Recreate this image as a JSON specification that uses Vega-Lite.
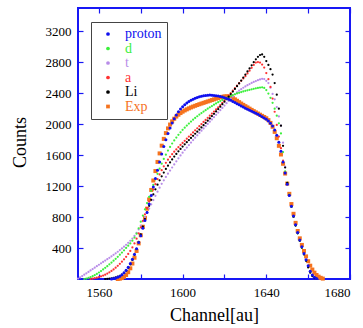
{
"$schema": "https://vega.github.io/schema/vega-lite/v6.json",
"width": 272, "height": 271,
"autosize": {"type": "none"},
"padding": {"left": 78, "top": 8, "right": 13, "bottom": 49},
"background": "white",
"config": {"view": {"stroke": "#1818f5", "strokeWidth": 2}, "font": "Liberation Serif"},
"data": {"values": [
{"s":"Exp","c":1569,"v":0},{"s":"Exp","c":1570,"v":4},{"s":"Exp","c":1571,"v":12},{"s":"Exp","c":1572,"v":28},{"s":"Exp","c":1573,"v":52},{"s":"Exp","c":1574,"v":88},{"s":"Exp","c":1575,"v":138},{"s":"Exp","c":1576,"v":200},{"s":"Exp","c":1577,"v":275},{"s":"Exp","c":1578,"v":362},{"s":"Exp","c":1579,"v":460},{"s":"Exp","c":1580,"v":565},{"s":"Exp","c":1581,"v":675},{"s":"Exp","c":1582,"v":790},{"s":"Exp","c":1583,"v":908},{"s":"Exp","c":1584,"v":1028},{"s":"Exp","c":1585,"v":1150},{"s":"Exp","c":1586,"v":1272},{"s":"Exp","c":1587,"v":1394},{"s":"Exp","c":1588,"v":1512},{"s":"Exp","c":1589,"v":1622},{"s":"Exp","c":1590,"v":1722},{"s":"Exp","c":1591,"v":1810},{"s":"Exp","c":1592,"v":1884},{"s":"Exp","c":1593,"v":1945},{"s":"Exp","c":1594,"v":1995},{"s":"Exp","c":1595,"v":2036},{"s":"Exp","c":1596,"v":2070},{"s":"Exp","c":1597,"v":2098},{"s":"Exp","c":1598,"v":2122},{"s":"Exp","c":1599,"v":2143},{"s":"Exp","c":1600,"v":2161},{"s":"Exp","c":1601,"v":2177},{"s":"Exp","c":1602,"v":2191},{"s":"Exp","c":1603,"v":2204},{"s":"Exp","c":1604,"v":2216},{"s":"Exp","c":1605,"v":2227},{"s":"Exp","c":1606,"v":2237},{"s":"Exp","c":1607,"v":2247},{"s":"Exp","c":1608,"v":2257},{"s":"Exp","c":1609,"v":2266},{"s":"Exp","c":1610,"v":2275},{"s":"Exp","c":1611,"v":2284},{"s":"Exp","c":1612,"v":2293},{"s":"Exp","c":1613,"v":2302},{"s":"Exp","c":1614,"v":2311},{"s":"Exp","c":1615,"v":2320},{"s":"Exp","c":1616,"v":2329},{"s":"Exp","c":1617,"v":2338},{"s":"Exp","c":1618,"v":2346},{"s":"Exp","c":1619,"v":2353},{"s":"Exp","c":1620,"v":2358},{"s":"Exp","c":1621,"v":2360},{"s":"Exp","c":1622,"v":2358},{"s":"Exp","c":1623,"v":2350},{"s":"Exp","c":1624,"v":2337},{"s":"Exp","c":1625,"v":2320},{"s":"Exp","c":1626,"v":2302},{"s":"Exp","c":1627,"v":2284},{"s":"Exp","c":1628,"v":2266},{"s":"Exp","c":1629,"v":2249},{"s":"Exp","c":1630,"v":2232},{"s":"Exp","c":1631,"v":2216},{"s":"Exp","c":1632,"v":2200},{"s":"Exp","c":1633,"v":2184},{"s":"Exp","c":1634,"v":2168},{"s":"Exp","c":1635,"v":2152},{"s":"Exp","c":1636,"v":2137},{"s":"Exp","c":1637,"v":2122},{"s":"Exp","c":1638,"v":2107},{"s":"Exp","c":1639,"v":2092},{"s":"Exp","c":1640,"v":2076},{"s":"Exp","c":1641,"v":2052},{"s":"Exp","c":1642,"v":2016},{"s":"Exp","c":1643,"v":1966},{"s":"Exp","c":1644,"v":1900},{"s":"Exp","c":1645,"v":1818},{"s":"Exp","c":1646,"v":1720},{"s":"Exp","c":1647,"v":1608},{"s":"Exp","c":1648,"v":1488},{"s":"Exp","c":1649,"v":1362},{"s":"Exp","c":1650,"v":1232},{"s":"Exp","c":1651,"v":1100},{"s":"Exp","c":1652,"v":968},{"s":"Exp","c":1653,"v":842},{"s":"Exp","c":1654,"v":725},{"s":"Exp","c":1655,"v":620},{"s":"Exp","c":1656,"v":525},{"s":"Exp","c":1657,"v":440},{"s":"Exp","c":1658,"v":362},{"s":"Exp","c":1659,"v":292},{"s":"Exp","c":1660,"v":230},{"s":"Exp","c":1661,"v":172},{"s":"Exp","c":1662,"v":122},{"s":"Exp","c":1663,"v":82},{"s":"Exp","c":1664,"v":52},{"s":"Exp","c":1665,"v":30},{"s":"Exp","c":1666,"v":15},{"s":"Exp","c":1667,"v":5},
{"s":"t","c":1550,"v":5},{"s":"t","c":1551,"v":20},{"s":"t","c":1552,"v":38},{"s":"t","c":1553,"v":56},{"s":"t","c":1554,"v":74},{"s":"t","c":1555,"v":92},{"s":"t","c":1556,"v":110},{"s":"t","c":1557,"v":128},{"s":"t","c":1558,"v":146},{"s":"t","c":1559,"v":165},{"s":"t","c":1560,"v":184},{"s":"t","c":1561,"v":202},{"s":"t","c":1562,"v":220},{"s":"t","c":1563,"v":238},{"s":"t","c":1564,"v":256},{"s":"t","c":1565,"v":274},{"s":"t","c":1566,"v":293},{"s":"t","c":1567,"v":312},{"s":"t","c":1568,"v":332},{"s":"t","c":1569,"v":352},{"s":"t","c":1570,"v":373},{"s":"t","c":1571,"v":395},{"s":"t","c":1572,"v":418},{"s":"t","c":1573,"v":442},{"s":"t","c":1574,"v":467},{"s":"t","c":1575,"v":494},{"s":"t","c":1576,"v":523},{"s":"t","c":1577,"v":556},{"s":"t","c":1578,"v":595},{"s":"t","c":1579,"v":640},{"s":"t","c":1580,"v":690},{"s":"t","c":1581,"v":745},{"s":"t","c":1582,"v":800},{"s":"t","c":1583,"v":855},{"s":"t","c":1584,"v":910},{"s":"t","c":1585,"v":965},{"s":"t","c":1586,"v":1020},{"s":"t","c":1587,"v":1075},{"s":"t","c":1588,"v":1128},{"s":"t","c":1589,"v":1180},{"s":"t","c":1590,"v":1230},{"s":"t","c":1591,"v":1275},{"s":"t","c":1592,"v":1318},{"s":"t","c":1593,"v":1360},{"s":"t","c":1594,"v":1400},{"s":"t","c":1595,"v":1440},{"s":"t","c":1596,"v":1480},{"s":"t","c":1597,"v":1520},{"s":"t","c":1598,"v":1558},{"s":"t","c":1599,"v":1596},{"s":"t","c":1600,"v":1632},{"s":"t","c":1601,"v":1666},{"s":"t","c":1602,"v":1698},{"s":"t","c":1603,"v":1730},{"s":"t","c":1604,"v":1762},{"s":"t","c":1605,"v":1794},{"s":"t","c":1606,"v":1825},{"s":"t","c":1607,"v":1856},{"s":"t","c":1608,"v":1886},{"s":"t","c":1609,"v":1916},{"s":"t","c":1610,"v":1945},{"s":"t","c":1611,"v":1974},{"s":"t","c":1612,"v":2003},{"s":"t","c":1613,"v":2032},{"s":"t","c":1614,"v":2061},{"s":"t","c":1615,"v":2090},{"s":"t","c":1616,"v":2120},{"s":"t","c":1617,"v":2150},{"s":"t","c":1618,"v":2180},{"s":"t","c":1619,"v":2210},{"s":"t","c":1620,"v":2240},{"s":"t","c":1621,"v":2270},{"s":"t","c":1622,"v":2300},{"s":"t","c":1623,"v":2330},{"s":"t","c":1624,"v":2358},{"s":"t","c":1625,"v":2385},{"s":"t","c":1626,"v":2410},{"s":"t","c":1627,"v":2432},{"s":"t","c":1628,"v":2452},{"s":"t","c":1629,"v":2470},{"s":"t","c":1630,"v":2487},{"s":"t","c":1631,"v":2503},{"s":"t","c":1632,"v":2518},{"s":"t","c":1633,"v":2532},{"s":"t","c":1634,"v":2545},{"s":"t","c":1635,"v":2557},{"s":"t","c":1636,"v":2568},{"s":"t","c":1637,"v":2578},{"s":"t","c":1638,"v":2586},{"s":"t","c":1639,"v":2582},{"s":"t","c":1640,"v":2560},{"s":"t","c":1641,"v":2530},{"s":"t","c":1642,"v":2470},{"s":"t","c":1643,"v":2390},{"s":"t","c":1644,"v":2320},{"s":"t","c":1645,"v":2220},{"s":"t","c":1646,"v":2100},{"s":"t","c":1647,"v":1980},{"s":"t","c":1648,"v":1760},{"s":"t","c":1649,"v":1450},{"s":"t","c":1650,"v":1230},{"s":"t","c":1651,"v":1085},{"s":"t","c":1652,"v":935},{"s":"t","c":1653,"v":810},{"s":"t","c":1654,"v":695},{"s":"t","c":1655,"v":600},{"s":"t","c":1656,"v":500},{"s":"t","c":1657,"v":410},{"s":"t","c":1658,"v":325},{"s":"t","c":1659,"v":245},{"s":"t","c":1660,"v":165},{"s":"t","c":1661,"v":95},{"s":"t","c":1662,"v":50},{"s":"t","c":1663,"v":20},{"s":"t","c":1664,"v":5},
{"s":"d","c":1553,"v":0},{"s":"d","c":1554,"v":6},{"s":"d","c":1555,"v":14},{"s":"d","c":1556,"v":24},{"s":"d","c":1557,"v":36},{"s":"d","c":1558,"v":50},{"s":"d","c":1559,"v":66},{"s":"d","c":1560,"v":84},{"s":"d","c":1561,"v":103},{"s":"d","c":1562,"v":123},{"s":"d","c":1563,"v":144},{"s":"d","c":1564,"v":166},{"s":"d","c":1565,"v":189},{"s":"d","c":1566,"v":212},{"s":"d","c":1567,"v":236},{"s":"d","c":1568,"v":261},{"s":"d","c":1569,"v":287},{"s":"d","c":1570,"v":314},{"s":"d","c":1571,"v":342},{"s":"d","c":1572,"v":371},{"s":"d","c":1573,"v":401},{"s":"d","c":1574,"v":430},{"s":"d","c":1575,"v":460},{"s":"d","c":1576,"v":495},{"s":"d","c":1577,"v":535},{"s":"d","c":1578,"v":585},{"s":"d","c":1579,"v":655},{"s":"d","c":1580,"v":740},{"s":"d","c":1581,"v":820},{"s":"d","c":1582,"v":900},{"s":"d","c":1583,"v":980},{"s":"d","c":1584,"v":1060},{"s":"d","c":1585,"v":1140},{"s":"d","c":1586,"v":1215},{"s":"d","c":1587,"v":1288},{"s":"d","c":1588,"v":1358},{"s":"d","c":1589,"v":1425},{"s":"d","c":1590,"v":1490},{"s":"d","c":1591,"v":1550},{"s":"d","c":1592,"v":1606},{"s":"d","c":1593,"v":1658},{"s":"d","c":1594,"v":1706},{"s":"d","c":1595,"v":1750},{"s":"d","c":1596,"v":1790},{"s":"d","c":1597,"v":1827},{"s":"d","c":1598,"v":1862},{"s":"d","c":1599,"v":1895},{"s":"d","c":1600,"v":1926},{"s":"d","c":1601,"v":1955},{"s":"d","c":1602,"v":1982},{"s":"d","c":1603,"v":2008},{"s":"d","c":1604,"v":2033},{"s":"d","c":1605,"v":2057},{"s":"d","c":1606,"v":2080},{"s":"d","c":1607,"v":2102},{"s":"d","c":1608,"v":2123},{"s":"d","c":1609,"v":2143},{"s":"d","c":1610,"v":2162},{"s":"d","c":1611,"v":2181},{"s":"d","c":1612,"v":2199},{"s":"d","c":1613,"v":2217},{"s":"d","c":1614,"v":2234},{"s":"d","c":1615,"v":2251},{"s":"d","c":1616,"v":2267},{"s":"d","c":1617,"v":2283},{"s":"d","c":1618,"v":2298},{"s":"d","c":1619,"v":2313},{"s":"d","c":1620,"v":2327},{"s":"d","c":1621,"v":2340},{"s":"d","c":1622,"v":2352},{"s":"d","c":1623,"v":2364},{"s":"d","c":1624,"v":2375},{"s":"d","c":1625,"v":2386},{"s":"d","c":1626,"v":2396},{"s":"d","c":1627,"v":2405},{"s":"d","c":1628,"v":2414},{"s":"d","c":1629,"v":2422},{"s":"d","c":1630,"v":2430},{"s":"d","c":1631,"v":2437},{"s":"d","c":1632,"v":2444},{"s":"d","c":1633,"v":2450},{"s":"d","c":1634,"v":2456},{"s":"d","c":1635,"v":2462},{"s":"d","c":1636,"v":2467},{"s":"d","c":1637,"v":2472},{"s":"d","c":1638,"v":2475},{"s":"d","c":1639,"v":2468},{"s":"d","c":1640,"v":2440},{"s":"d","c":1641,"v":2395},{"s":"d","c":1642,"v":2340},{"s":"d","c":1643,"v":2275},{"s":"d","c":1644,"v":2200},{"s":"d","c":1645,"v":2110},{"s":"d","c":1646,"v":2010},{"s":"d","c":1647,"v":1880},{"s":"d","c":1648,"v":1640},{"s":"d","c":1649,"v":1390},{"s":"d","c":1650,"v":1240},{"s":"d","c":1651,"v":1090},{"s":"d","c":1652,"v":930},{"s":"d","c":1653,"v":805},{"s":"d","c":1654,"v":690},{"s":"d","c":1655,"v":590},{"s":"d","c":1656,"v":495},{"s":"d","c":1657,"v":405},{"s":"d","c":1658,"v":320},{"s":"d","c":1659,"v":240},{"s":"d","c":1660,"v":160},{"s":"d","c":1661,"v":90},{"s":"d","c":1662,"v":45},{"s":"d","c":1663,"v":18},{"s":"d","c":1664,"v":4},
{"s":"a","c":1556,"v":0},{"s":"a","c":1557,"v":4},{"s":"a","c":1558,"v":10},{"s":"a","c":1559,"v":17},{"s":"a","c":1560,"v":25},{"s":"a","c":1561,"v":34},{"s":"a","c":1562,"v":44},{"s":"a","c":1563,"v":56},{"s":"a","c":1564,"v":70},{"s":"a","c":1565,"v":86},{"s":"a","c":1566,"v":104},{"s":"a","c":1567,"v":124},{"s":"a","c":1568,"v":146},{"s":"a","c":1569,"v":170},{"s":"a","c":1570,"v":196},{"s":"a","c":1571,"v":224},{"s":"a","c":1572,"v":254},{"s":"a","c":1573,"v":287},{"s":"a","c":1574,"v":323},{"s":"a","c":1575,"v":363},{"s":"a","c":1576,"v":408},{"s":"a","c":1577,"v":460},{"s":"a","c":1578,"v":520},{"s":"a","c":1579,"v":590},{"s":"a","c":1580,"v":668},{"s":"a","c":1581,"v":752},{"s":"a","c":1582,"v":836},{"s":"a","c":1583,"v":918},{"s":"a","c":1584,"v":1000},{"s":"a","c":1585,"v":1080},{"s":"a","c":1586,"v":1155},{"s":"a","c":1587,"v":1225},{"s":"a","c":1588,"v":1290},{"s":"a","c":1589,"v":1350},{"s":"a","c":1590,"v":1405},{"s":"a","c":1591,"v":1455},{"s":"a","c":1592,"v":1500},{"s":"a","c":1593,"v":1541},{"s":"a","c":1594,"v":1578},{"s":"a","c":1595,"v":1612},{"s":"a","c":1596,"v":1644},{"s":"a","c":1597,"v":1674},{"s":"a","c":1598,"v":1703},{"s":"a","c":1599,"v":1731},{"s":"a","c":1600,"v":1758},{"s":"a","c":1601,"v":1785},{"s":"a","c":1602,"v":1812},{"s":"a","c":1603,"v":1839},{"s":"a","c":1604,"v":1866},{"s":"a","c":1605,"v":1893},{"s":"a","c":1606,"v":1920},{"s":"a","c":1607,"v":1947},{"s":"a","c":1608,"v":1974},{"s":"a","c":1609,"v":2001},{"s":"a","c":1610,"v":2028},{"s":"a","c":1611,"v":2055},{"s":"a","c":1612,"v":2082},{"s":"a","c":1613,"v":2109},{"s":"a","c":1614,"v":2136},{"s":"a","c":1615,"v":2163},{"s":"a","c":1616,"v":2190},{"s":"a","c":1617,"v":2218},{"s":"a","c":1618,"v":2246},{"s":"a","c":1619,"v":2275},{"s":"a","c":1620,"v":2305},{"s":"a","c":1621,"v":2336},{"s":"a","c":1622,"v":2368},{"s":"a","c":1623,"v":2400},{"s":"a","c":1624,"v":2433},{"s":"a","c":1625,"v":2465},{"s":"a","c":1626,"v":2497},{"s":"a","c":1627,"v":2529},{"s":"a","c":1628,"v":2560},{"s":"a","c":1629,"v":2590},{"s":"a","c":1630,"v":2620},{"s":"a","c":1631,"v":2655},{"s":"a","c":1632,"v":2690},{"s":"a","c":1633,"v":2728},{"s":"a","c":1634,"v":2765},{"s":"a","c":1635,"v":2795},{"s":"a","c":1636,"v":2802},{"s":"a","c":1637,"v":2795},{"s":"a","c":1638,"v":2770},{"s":"a","c":1639,"v":2730},{"s":"a","c":1640,"v":2660},{"s":"a","c":1641,"v":2580},{"s":"a","c":1642,"v":2480},{"s":"a","c":1643,"v":2330},{"s":"a","c":1644,"v":2160},{"s":"a","c":1645,"v":1990},{"s":"a","c":1646,"v":1840},{"s":"a","c":1647,"v":1690},{"s":"a","c":1648,"v":1530},{"s":"a","c":1649,"v":1375},{"s":"a","c":1650,"v":1235},{"s":"a","c":1651,"v":1088},{"s":"a","c":1652,"v":940},{"s":"a","c":1653,"v":812},{"s":"a","c":1654,"v":698},{"s":"a","c":1655,"v":596},{"s":"a","c":1656,"v":502},{"s":"a","c":1657,"v":412},{"s":"a","c":1658,"v":328},{"s":"a","c":1659,"v":248},{"s":"a","c":1660,"v":168},{"s":"a","c":1661,"v":98},{"s":"a","c":1662,"v":50},{"s":"a","c":1663,"v":20},{"s":"a","c":1664,"v":5},
{"s":"Li","c":1563,"v":0},{"s":"Li","c":1564,"v":2},{"s":"Li","c":1565,"v":5},{"s":"Li","c":1566,"v":9},{"s":"Li","c":1567,"v":14},{"s":"Li","c":1568,"v":21},{"s":"Li","c":1569,"v":30},{"s":"Li","c":1570,"v":42},{"s":"Li","c":1571,"v":58},{"s":"Li","c":1572,"v":80},{"s":"Li","c":1573,"v":108},{"s":"Li","c":1574,"v":144},{"s":"Li","c":1575,"v":190},{"s":"Li","c":1576,"v":246},{"s":"Li","c":1577,"v":312},{"s":"Li","c":1578,"v":390},{"s":"Li","c":1579,"v":478},{"s":"Li","c":1580,"v":575},{"s":"Li","c":1581,"v":675},{"s":"Li","c":1582,"v":772},{"s":"Li","c":1583,"v":862},{"s":"Li","c":1584,"v":945},{"s":"Li","c":1585,"v":1022},{"s":"Li","c":1586,"v":1093},{"s":"Li","c":1587,"v":1158},{"s":"Li","c":1588,"v":1218},{"s":"Li","c":1589,"v":1274},{"s":"Li","c":1590,"v":1326},{"s":"Li","c":1591,"v":1375},{"s":"Li","c":1592,"v":1421},{"s":"Li","c":1593,"v":1464},{"s":"Li","c":1594,"v":1505},{"s":"Li","c":1595,"v":1544},{"s":"Li","c":1596,"v":1581},{"s":"Li","c":1597,"v":1616},{"s":"Li","c":1598,"v":1649},{"s":"Li","c":1599,"v":1680},{"s":"Li","c":1600,"v":1710},{"s":"Li","c":1601,"v":1739},{"s":"Li","c":1602,"v":1767},{"s":"Li","c":1603,"v":1795},{"s":"Li","c":1604,"v":1822},{"s":"Li","c":1605,"v":1849},{"s":"Li","c":1606,"v":1876},{"s":"Li","c":1607,"v":1903},{"s":"Li","c":1608,"v":1930},{"s":"Li","c":1609,"v":1958},{"s":"Li","c":1610,"v":1986},{"s":"Li","c":1611,"v":2015},{"s":"Li","c":1612,"v":2044},{"s":"Li","c":1613,"v":2074},{"s":"Li","c":1614,"v":2104},{"s":"Li","c":1615,"v":2134},{"s":"Li","c":1616,"v":2164},{"s":"Li","c":1617,"v":2195},{"s":"Li","c":1618,"v":2226},{"s":"Li","c":1619,"v":2258},{"s":"Li","c":1620,"v":2290},{"s":"Li","c":1621,"v":2322},{"s":"Li","c":1622,"v":2355},{"s":"Li","c":1623,"v":2388},{"s":"Li","c":1624,"v":2421},{"s":"Li","c":1625,"v":2455},{"s":"Li","c":1626,"v":2490},{"s":"Li","c":1627,"v":2526},{"s":"Li","c":1628,"v":2563},{"s":"Li","c":1629,"v":2601},{"s":"Li","c":1630,"v":2640},{"s":"Li","c":1631,"v":2680},{"s":"Li","c":1632,"v":2720},{"s":"Li","c":1633,"v":2760},{"s":"Li","c":1634,"v":2800},{"s":"Li","c":1635,"v":2838},{"s":"Li","c":1636,"v":2870},{"s":"Li","c":1637,"v":2893},{"s":"Li","c":1638,"v":2900},{"s":"Li","c":1639,"v":2870},{"s":"Li","c":1640,"v":2815},{"s":"Li","c":1641,"v":2765},{"s":"Li","c":1642,"v":2710},{"s":"Li","c":1643,"v":2640},{"s":"Li","c":1644,"v":2530},{"s":"Li","c":1645,"v":2380},{"s":"Li","c":1646,"v":2200},{"s":"Li","c":1647,"v":1980},{"s":"Li","c":1648,"v":1720},{"s":"Li","c":1649,"v":1440},{"s":"Li","c":1650,"v":1240},{"s":"Li","c":1651,"v":1080},{"s":"Li","c":1652,"v":935},{"s":"Li","c":1653,"v":805},{"s":"Li","c":1654,"v":690},{"s":"Li","c":1655,"v":590},{"s":"Li","c":1656,"v":495},{"s":"Li","c":1657,"v":405},{"s":"Li","c":1658,"v":318},{"s":"Li","c":1659,"v":235},{"s":"Li","c":1660,"v":150},{"s":"Li","c":1661,"v":82},{"s":"Li","c":1662,"v":38},{"s":"Li","c":1663,"v":12},{"s":"Li","c":1664,"v":2},
{"s":"proton","c":1566,"v":0},{"s":"proton","c":1567,"v":5},{"s":"proton","c":1568,"v":12},{"s":"proton","c":1569,"v":22},{"s":"proton","c":1570,"v":36},{"s":"proton","c":1571,"v":55},{"s":"proton","c":1572,"v":80},{"s":"proton","c":1573,"v":112},{"s":"proton","c":1574,"v":152},{"s":"proton","c":1575,"v":200},{"s":"proton","c":1576,"v":256},{"s":"proton","c":1577,"v":320},{"s":"proton","c":1578,"v":392},{"s":"proton","c":1579,"v":472},{"s":"proton","c":1580,"v":560},{"s":"proton","c":1581,"v":655},{"s":"proton","c":1582,"v":755},{"s":"proton","c":1583,"v":860},{"s":"proton","c":1584,"v":968},{"s":"proton","c":1585,"v":1078},{"s":"proton","c":1586,"v":1188},{"s":"proton","c":1587,"v":1298},{"s":"proton","c":1588,"v":1406},{"s":"proton","c":1589,"v":1512},{"s":"proton","c":1590,"v":1614},{"s":"proton","c":1591,"v":1710},{"s":"proton","c":1592,"v":1798},{"s":"proton","c":1593,"v":1878},{"s":"proton","c":1594,"v":1950},{"s":"proton","c":1595,"v":2014},{"s":"proton","c":1596,"v":2070},{"s":"proton","c":1597,"v":2118},{"s":"proton","c":1598,"v":2160},{"s":"proton","c":1599,"v":2196},{"s":"proton","c":1600,"v":2226},{"s":"proton","c":1601,"v":2252},{"s":"proton","c":1602,"v":2274},{"s":"proton","c":1603,"v":2293},{"s":"proton","c":1604,"v":2309},{"s":"proton","c":1605,"v":2323},{"s":"proton","c":1606,"v":2335},{"s":"proton","c":1607,"v":2345},{"s":"proton","c":1608,"v":2354},{"s":"proton","c":1609,"v":2361},{"s":"proton","c":1610,"v":2367},{"s":"proton","c":1611,"v":2371},{"s":"proton","c":1612,"v":2374},{"s":"proton","c":1613,"v":2375},{"s":"proton","c":1614,"v":2374},{"s":"proton","c":1615,"v":2371},{"s":"proton","c":1616,"v":2367},{"s":"proton","c":1617,"v":2362},{"s":"proton","c":1618,"v":2356},{"s":"proton","c":1619,"v":2349},{"s":"proton","c":1620,"v":2341},{"s":"proton","c":1621,"v":2332},{"s":"proton","c":1622,"v":2321},{"s":"proton","c":1623,"v":2308},{"s":"proton","c":1624,"v":2294},{"s":"proton","c":1625,"v":2279},{"s":"proton","c":1626,"v":2264},{"s":"proton","c":1627,"v":2249},{"s":"proton","c":1628,"v":2234},{"s":"proton","c":1629,"v":2220},{"s":"proton","c":1630,"v":2206},{"s":"proton","c":1631,"v":2193},{"s":"proton","c":1632,"v":2180},{"s":"proton","c":1633,"v":2167},{"s":"proton","c":1634,"v":2154},{"s":"proton","c":1635,"v":2141},{"s":"proton","c":1636,"v":2127},{"s":"proton","c":1637,"v":2112},{"s":"proton","c":1638,"v":2096},{"s":"proton","c":1639,"v":2080},{"s":"proton","c":1640,"v":2062},{"s":"proton","c":1641,"v":2040},{"s":"proton","c":1642,"v":2012},{"s":"proton","c":1643,"v":1975},{"s":"proton","c":1644,"v":1925},{"s":"proton","c":1645,"v":1855},{"s":"proton","c":1646,"v":1765},{"s":"proton","c":1647,"v":1650},{"s":"proton","c":1648,"v":1510},{"s":"proton","c":1649,"v":1370},{"s":"proton","c":1650,"v":1225},{"s":"proton","c":1651,"v":1080},{"s":"proton","c":1652,"v":940},{"s":"proton","c":1653,"v":815},{"s":"proton","c":1654,"v":700},{"s":"proton","c":1655,"v":600},{"s":"proton","c":1656,"v":505},{"s":"proton","c":1657,"v":415},{"s":"proton","c":1658,"v":330},{"s":"proton","c":1659,"v":250},{"s":"proton","c":1660,"v":170},{"s":"proton","c":1661,"v":100},{"s":"proton","c":1662,"v":52},{"s":"proton","c":1663,"v":22},{"s":"proton","c":1664,"v":6}
]},
"layer": [
{"mark": {"type": "point", "filled": true, "opacity": 1, "strokeWidth": 0},
 "encoding": {
  "x": {"field": "c", "type": "quantitative", "scale": {"domain": [1550, 1680], "nice": false, "zero": false},
    "axis": {"values": [1560,1580,1600,1620,1640,1660,1680], "format": "d", "labelExpr": "datum.value % 40 == 0 ? datum.label : ''",
      "title": "Channel[au]", "domain": false, "grid": false, "tickColor": "#1818f5", "tickSize": -5, "tickWidth": 1.2,
      "labelFont": "Liberation Serif, Times New Roman, serif", "labelFontSize": 13, "labelColor": "black", "labelPadding": 12,
      "titleFont": "Liberation Serif, Times New Roman, serif", "titleFontSize": 18, "titleFontWeight": "normal", "titleColor": "black",
      "titleX": 136, "titleY": 41, "titleBaseline": "alphabetic"}},
  "y": {"field": "v", "type": "quantitative", "scale": {"domain": [0, 3500], "nice": false},
    "axis": {"values": [400,800,1200,1600,2000,2400,2800,3200], "format": "d",
      "title": "Counts", "domain": false, "grid": false, "tickColor": "#1818f5", "tickSize": -5, "tickWidth": 1.2,
      "labelFont": "Liberation Serif, Times New Roman, serif", "labelFontSize": 13, "labelColor": "black", "labelPadding": 12,
      "titleFont": "Liberation Serif, Times New Roman, serif", "titleFontSize": 18, "titleFontWeight": "normal", "titleColor": "black",
      "titleX": -53, "titleY": 134, "titleBaseline": "alphabetic", "titleAngle": -90}},
  "color": {"field": "s", "type": "nominal",
    "scale": {"domain": ["proton","d","t","a","Li","Exp"], "range": ["#1010ee","#3cf03c","#b88ce8","#ff3232","#000000","#f5731e"]},
    "legend": {"orient": "none", "legendX": 13, "legendY": 14, "title": null, "fillColor": "white", "strokeColor": "#444444",
      "padding": 5, "labelFont": "Liberation Serif, Times New Roman, serif", "labelFontSize": 14, "symbolSize": 14, "symbolStrokeWidth": 0,
      "rowPadding": 0.5, "labelOffset": 10, "symbolOffset": 5,
      "labelColor": {"expr": "scale('color', datum.value)"}}},
  "shape": {"field": "s", "type": "nominal",
    "scale": {"domain": ["proton","d","t","a","Li","Exp"], "range": ["circle","circle","circle","circle","circle","square"]}},
  "size": {"condition": [{"test": "datum.s == 'Exp'", "value": 16}, {"test": "datum.s == 'proton'", "value": 9}], "value": 5}
 }},
{"mark": {"type": "point", "opacity": 0},
 "encoding": {
  "x": {"field": "c", "type": "quantitative",
    "axis": {"orient": "top", "values": [1560,1580,1600,1620,1640,1660,1680], "labels": false, "title": null, "domain": false, "grid": false,
      "tickColor": "#1818f5", "tickSize": -5, "tickWidth": 1.2}},
  "y": {"field": "v", "type": "quantitative",
    "axis": {"orient": "right", "values": [400,800,1200,1600,2000,2400,2800,3200], "labels": false, "title": null, "domain": false, "grid": false,
      "tickColor": "#1818f5", "tickSize": -5, "tickWidth": 1.2}}
 }}
],
"resolve": {"axis": {"x": "independent", "y": "independent"}}
}
